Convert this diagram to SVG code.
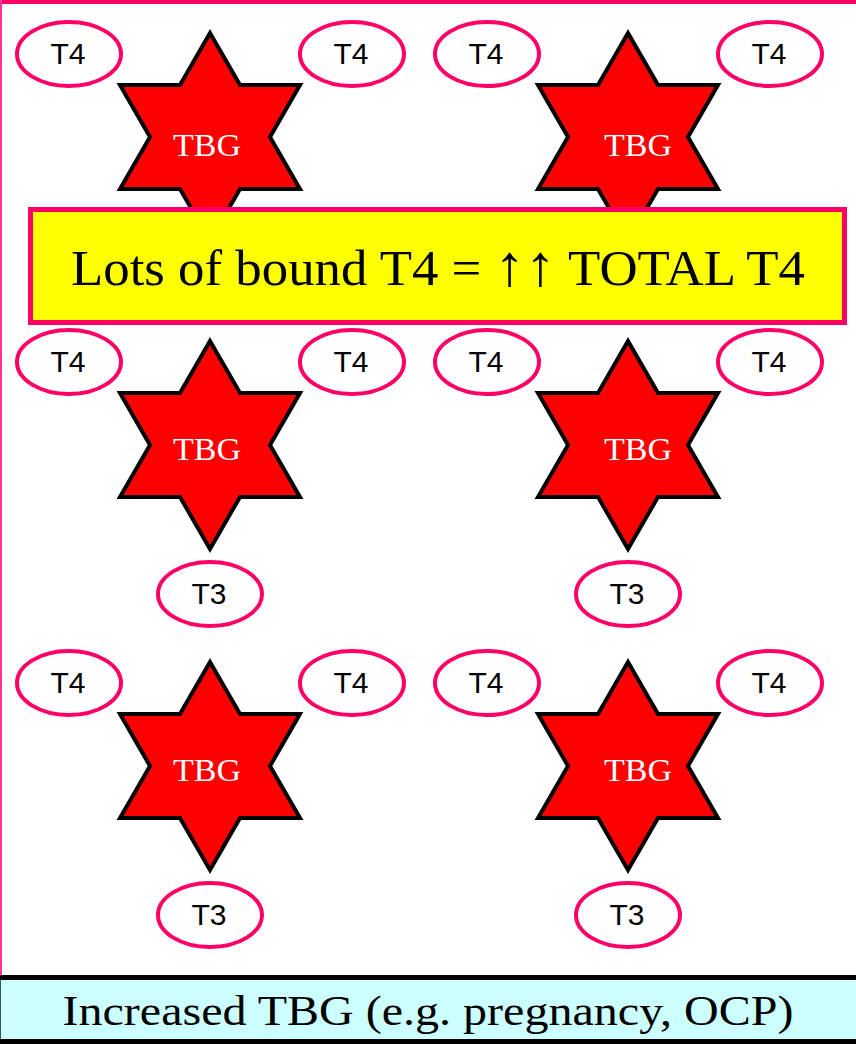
<svg xmlns="http://www.w3.org/2000/svg" width="856" height="1044" viewBox="0 0 856 1044">
<defs>
<style>
.star{fill:#ff0000;stroke:#000;stroke-width:4;stroke-linejoin:miter}
.ell{fill:#fff;stroke:#ff0066;stroke-width:4}
.lbl{font-family:"Liberation Sans",Arial,sans-serif;font-size:30px;fill:#000;text-anchor:middle}
.tbg{font-family:"Liberation Serif","Times New Roman",serif;font-size:31px;fill:#fff;text-anchor:middle}
.big{font-family:"Liberation Serif","Times New Roman",serif;fill:#000;text-anchor:middle}
</style>
<path id="hex" d="M0,-104 L30,-52 L90,-52 L60,0 L90,52 L30,52 L0,104 L-30,52 L-90,52 L-60,0 L-90,-52 L-30,-52 Z"/>
</defs>
<rect x="0" y="0" width="856" height="1044" fill="#fff"/>
<!-- frame -->
<rect x="0" y="0" width="856" height="4" fill="#ff0066"/>
<rect x="0" y="0" width="2" height="976" fill="#ff3399"/>

<g id="connectors"></g>

<!-- Row 1 -->
<g id="tbg1"><use href="#hex" class="star" x="210" y="137"/><text class="tbg" x="207" y="156" textLength="68" lengthAdjust="spacingAndGlyphs">TBG</text></g>
<g id="t4_1a"><ellipse class="ell" cx="69" cy="54" rx="52" ry="32"/><text class="lbl" x="68" y="64">T4</text></g>
<g id="t4_1b"><ellipse class="ell" cx="352" cy="54" rx="52" ry="32"/><text class="lbl" x="351" y="64">T4</text></g>
<g id="tbg2"><use href="#hex" class="star" x="628" y="137"/><text class="tbg" x="638" y="156" textLength="68" lengthAdjust="spacingAndGlyphs">TBG</text></g>
<g id="t4_2a"><ellipse class="ell" cx="487" cy="54" rx="52" ry="32"/><text class="lbl" x="486" y="64">T4</text></g>
<g id="t4_2b"><ellipse class="ell" cx="770" cy="54" rx="52" ry="32"/><text class="lbl" x="769" y="64">T4</text></g>

<!-- Row 2 -->
<g id="tbg3"><use href="#hex" class="star" x="210" y="445"/><text class="tbg" x="207" y="460" textLength="68" lengthAdjust="spacingAndGlyphs">TBG</text></g>
<g id="t4_3a"><ellipse class="ell" cx="69" cy="362" rx="52" ry="32"/><text class="lbl" x="68" y="372">T4</text></g>
<g id="t4_3b"><ellipse class="ell" cx="352" cy="362" rx="52" ry="32"/><text class="lbl" x="351" y="372">T4</text></g>
<g id="t3_3"><ellipse class="ell" cx="210" cy="594" rx="52" ry="32"/><text class="lbl" x="209" y="604">T3</text></g>
<g id="tbg4"><use href="#hex" class="star" x="628" y="445"/><text class="tbg" x="638" y="460" textLength="68" lengthAdjust="spacingAndGlyphs">TBG</text></g>
<g id="t4_4a"><ellipse class="ell" cx="487" cy="362" rx="52" ry="32"/><text class="lbl" x="486" y="372">T4</text></g>
<g id="t4_4b"><ellipse class="ell" cx="770" cy="362" rx="52" ry="32"/><text class="lbl" x="769" y="372">T4</text></g>
<g id="t3_4"><ellipse class="ell" cx="628" cy="594" rx="52" ry="32"/><text class="lbl" x="627" y="604">T3</text></g>

<!-- Row 3 -->
<g id="tbg5"><use href="#hex" class="star" x="210" y="766"/><text class="tbg" x="207" y="781" textLength="68" lengthAdjust="spacingAndGlyphs">TBG</text></g>
<g id="t4_5a"><ellipse class="ell" cx="69" cy="683" rx="52" ry="32"/><text class="lbl" x="68" y="693">T4</text></g>
<g id="t4_5b"><ellipse class="ell" cx="352" cy="683" rx="52" ry="32"/><text class="lbl" x="351" y="693">T4</text></g>
<g id="t3_5"><ellipse class="ell" cx="210" cy="915" rx="52" ry="32"/><text class="lbl" x="209" y="925">T3</text></g>
<g id="tbg6"><use href="#hex" class="star" x="628" y="766"/><text class="tbg" x="638" y="781" textLength="68" lengthAdjust="spacingAndGlyphs">TBG</text></g>
<g id="t4_6a"><ellipse class="ell" cx="487" cy="683" rx="52" ry="32"/><text class="lbl" x="486" y="693">T4</text></g>
<g id="t4_6b"><ellipse class="ell" cx="770" cy="683" rx="52" ry="32"/><text class="lbl" x="769" y="693">T4</text></g>
<g id="t3_6"><ellipse class="ell" cx="628" cy="915" rx="52" ry="32"/><text class="lbl" x="627" y="925">T3</text></g>

<!-- Yellow callout -->
<g id="callout">
<rect x="30.5" y="209.5" width="814" height="113" fill="#ffff00" stroke="#ff0066" stroke-width="5"/>
<text class="big" x="438" y="285" font-size="50" textLength="734" lengthAdjust="spacingAndGlyphs">Lots of bound T4 = <tspan font-size="58">↑↑</tspan> TOTAL T4</text>
</g>

<!-- Caption -->
<g id="caption">
<rect x="0" y="975" width="856" height="69" fill="#ccffff"/>
<rect x="0" y="975" width="856" height="5" fill="#000"/>
<rect x="0" y="1039" width="856" height="5" fill="#000"/>
<rect x="0" y="980" width="1" height="59" fill="#335555"/>
<text class="big" x="428" y="1025" font-size="43" textLength="731" lengthAdjust="spacingAndGlyphs">Increased TBG (e.g. pregnancy, OCP)</text>
</g>
</svg>
